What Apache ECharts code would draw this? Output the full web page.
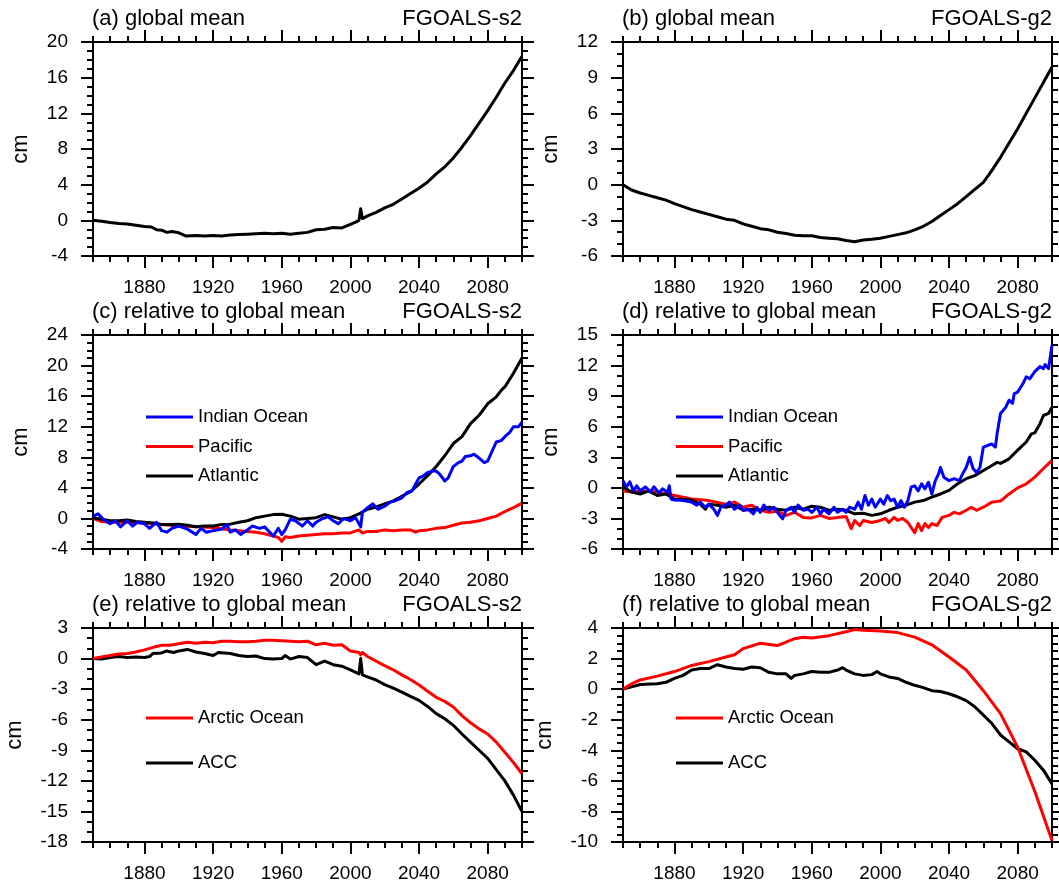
<!DOCTYPE html>
<html>
<head>
<meta charset="utf-8">
<script src="https://cdn.jsdelivr.net/npm/echarts@6/dist/echarts.min.js"></script>
<style>
html, body { margin: 0; padding: 0; background: #fff; }
#chart { width: 1059px; height: 889px; }
</style>
</head>
<body>
<div id="chart"></div>
<script>
// tick labels
var majorYears = [1880, 1920, 1960, 2000, 2040, 2080];

// (a) global mean, FGOALS-s2
var yrsGmS2 = [1850,1855,1860,1865,1870,1875,1880,1884,1887,1890,1893,1896,1900,1904,1910,1915,1920,1925,1930,1935,1940,1945,1950,1955,1960,1965,1970,1975,1980,1985,1990,1995,2000,2003,2005,2006,2007,2010,2015,2020,2025,2030,2035,2040,2045,2050,2055,2060,2065,2070,2075,2080,2085,2090,2095,2100];
var gmS2 = [0.0,-0.1,-0.25,-0.35,-0.4,-0.55,-0.7,-0.75,-1.05,-1.1,-1.35,-1.25,-1.4,-1.75,-1.7,-1.75,-1.7,-1.75,-1.65,-1.6,-1.55,-1.5,-1.45,-1.5,-1.45,-1.55,-1.45,-1.35,-1.05,-1.0,-0.8,-0.85,-0.45,-0.2,0.0,1.3,0.2,0.5,0.9,1.4,1.8,2.4,3.0,3.6,4.3,5.2,6.0,7.0,8.2,9.5,10.9,12.3,13.8,15.4,16.8,18.4];

// (b) global mean, FGOALS-g2
var yrsGmG2 = [1850,1855,1860,1865,1870,1875,1880,1885,1890,1895,1900,1905,1910,1915,1920,1925,1930,1935,1940,1945,1950,1955,1960,1965,1970,1975,1980,1985,1990,1995,2000,2005,2010,2015,2020,2025,2030,2035,2040,2045,2050,2055,2060,2065,2070,2075,2080,2085,2090,2095,2100];
var gmG2 = [0.0,-0.45,-0.7,-0.9,-1.1,-1.3,-1.6,-1.85,-2.1,-2.3,-2.5,-2.7,-2.9,-3.0,-3.3,-3.5,-3.7,-3.8,-4.0,-4.1,-4.25,-4.3,-4.3,-4.45,-4.5,-4.55,-4.7,-4.8,-4.65,-4.6,-4.5,-4.35,-4.2,-4.05,-3.8,-3.5,-3.1,-2.6,-2.1,-1.6,-1.0,-0.4,0.2,1.2,2.3,3.5,4.7,6.0,7.3,8.6,9.9];

// (c) basins relative to global mean, FGOALS-s2
var yrsIndS2 = [1850,1853,1856,1860,1863,1866,1870,1873,1876,1880,1883,1887,1890,1893,1896,1900,1905,1910,1913,1916,1920,1925,1928,1930,1933,1936,1940,1943,1947,1950,1953,1955,1958,1960,1962,1965,1968,1972,1975,1978,1980,1983,1987,1990,1993,1996,2000,2003,2006,2007,2010,2013,2016,2020,2023,2026,2030,2033,2036,2038,2040,2042,2045,2048,2050,2052,2055,2057,2060,2063,2065,2067,2070,2072,2075,2078,2080,2082,2085,2088,2090,2093,2095,2098,2100];
var indS2 = [0.3,0.6,-0.1,-0.7,-0.3,-1.1,-0.3,-1.0,-0.5,-0.7,-1.3,-0.5,-1.6,-1.8,-1.3,-1.0,-1.4,-2.1,-1.3,-1.8,-1.6,-1.4,-0.8,-1.8,-1.5,-2.1,-1.5,-1.0,-1.3,-1.1,-1.8,-2.3,-1.3,-2.1,-1.5,-0.1,-0.3,-1.0,-0.3,-1.0,-0.5,-0.1,0.2,-0.3,-0.7,0.0,-0.3,0.1,-1.1,0.8,1.4,1.9,1.2,1.6,2.1,2.3,2.7,3.4,3.6,4.5,5.3,5.5,6.0,6.2,6.2,5.8,4.9,5.3,6.8,7.3,7.5,8.1,8.2,8.4,7.9,7.3,7.5,8.5,10.0,10.2,10.7,11.3,12.0,12.0,12.6];
var yrsPacS2 = [1850,1855,1860,1870,1880,1890,1900,1910,1920,1930,1940,1945,1950,1955,1958,1960,1962,1965,1970,1975,1980,1985,1990,1995,2000,2005,2007,2010,2015,2020,2025,2030,2035,2038,2040,2045,2050,2055,2060,2065,2070,2075,2080,2085,2090,2095,2100];
var pacS2 = [0.0,-0.4,-0.5,-0.5,-0.6,-0.8,-1.0,-1.1,-1.2,-1.5,-1.7,-1.8,-2.0,-2.3,-2.5,-3.0,-2.4,-2.5,-2.3,-2.2,-2.1,-2.0,-2.0,-1.9,-1.9,-1.5,-1.9,-1.7,-1.7,-1.5,-1.6,-1.5,-1.5,-1.8,-1.6,-1.5,-1.3,-1.2,-0.9,-0.6,-0.5,-0.3,0.0,0.3,0.9,1.4,2.0];
var yrsAtlS2 = [1850,1855,1860,1865,1870,1875,1880,1885,1890,1895,1900,1905,1910,1915,1920,1925,1930,1935,1940,1945,1950,1955,1960,1965,1970,1975,1980,1985,1990,1995,2000,2005,2010,2015,2020,2025,2030,2035,2040,2045,2050,2055,2060,2065,2070,2075,2080,2085,2088,2090,2095,2100];
var atlS2 = [0.1,-0.1,-0.3,-0.3,-0.2,-0.4,-0.5,-0.6,-0.8,-0.8,-0.75,-0.9,-1.1,-1.0,-1.0,-0.8,-0.75,-0.5,-0.3,0.1,0.3,0.5,0.55,0.3,-0.1,0.0,0.1,0.5,0.2,-0.1,0.1,0.6,1.2,1.5,1.9,2.3,2.9,3.5,4.5,5.6,6.8,8.2,9.8,10.7,12.4,13.5,15.0,15.9,16.8,17.2,19.0,21.0];

// (d) basins relative to global mean, FGOALS-g2
var yrsIndG2 = [1850,1852,1854,1856,1858,1860,1863,1866,1868,1871,1873,1876,1877,1878,1880,1885,1890,1893,1895,1898,1900,1903,1905,1907,1910,1912,1915,1918,1920,1923,1926,1928,1930,1932,1935,1938,1940,1943,1945,1948,1950,1952,1955,1958,1960,1963,1965,1967,1970,1973,1975,1978,1980,1982,1985,1987,1989,1991,1993,1995,1997,2000,2002,2004,2006,2008,2010,2012,2014,2016,2018,2020,2022,2024,2026,2028,2030,2032,2034,2035,2037,2040,2043,2046,2048,2050,2052,2054,2056,2058,2060,2063,2065,2067,2068,2070,2073,2075,2077,2078,2080,2083,2085,2087,2090,2093,2095,2096,2098,2100];
var indG2 = [0.7,0.1,0.6,-0.3,0.2,-0.3,0.1,-0.4,0.1,-0.5,-0.1,-0.4,0.2,-1.1,-1.2,-1.25,-1.4,-1.7,-1.4,-1.9,-1.6,-2.1,-2.7,-1.9,-1.7,-1.4,-2.1,-1.7,-2.2,-2.1,-2.55,-1.9,-2.4,-1.7,-2.2,-1.9,-2.4,-3.05,-2.2,-1.9,-2.4,-1.7,-2.2,-2.1,-2.4,-1.9,-2.55,-2.1,-2.55,-1.9,-2.4,-2.1,-2.4,-1.9,-2.1,-1.4,-2.1,-0.75,-1.7,-1.1,-1.9,-1.1,-1.6,-0.75,-1.25,-1.1,-1.9,-1.25,-1.9,-1.25,0.1,0.2,-0.3,0.4,-0.1,0.55,-0.6,0.7,1.4,2.0,1.05,0.7,0.9,0.7,1.4,2.0,3.0,1.9,1.5,2.0,4.0,4.2,4.3,4.0,5.3,7.3,7.9,8.6,8.3,9.25,9.4,10.2,10.9,10.7,11.4,11.9,11.7,12.1,11.7,14.0];
var yrsPacG2 = [1850,1855,1860,1870,1880,1890,1900,1910,1915,1920,1925,1930,1935,1940,1945,1950,1955,1960,1965,1970,1975,1980,1983,1985,1988,1990,1995,2000,2003,2005,2008,2010,2013,2016,2018,2020,2022,2024,2026,2028,2030,2033,2036,2040,2043,2046,2050,2053,2056,2060,2065,2070,2075,2080,2085,2090,2095,2100];
var pacG2 = [-0.3,-0.4,-0.3,-0.4,-0.75,-1.1,-1.25,-1.6,-1.4,-1.9,-1.7,-2.2,-2.4,-2.3,-2.7,-2.4,-2.9,-2.95,-2.7,-3.0,-2.9,-2.8,-4.0,-3.2,-3.7,-3.2,-3.4,-3.2,-3.0,-3.4,-2.9,-3.2,-3.0,-3.4,-3.9,-4.4,-3.5,-4.2,-3.5,-3.9,-3.5,-3.7,-2.9,-2.7,-2.4,-2.55,-2.2,-1.9,-2.2,-1.9,-1.4,-1.3,-0.6,0.0,0.4,1.05,1.9,2.7];
var yrsAtlG2 = [1850,1855,1860,1865,1870,1875,1880,1890,1895,1898,1900,1905,1910,1915,1920,1925,1930,1935,1940,1945,1950,1955,1960,1965,1970,1975,1980,1985,1990,1995,2000,2005,2010,2015,2020,2025,2030,2035,2040,2045,2050,2055,2060,2065,2068,2070,2075,2080,2085,2088,2090,2093,2095,2098,2100];
var atlG2 = [0.1,-0.4,-0.6,-0.3,-0.75,-0.6,-1.1,-1.2,-1.6,-2.1,-1.6,-1.7,-1.9,-1.7,-2.2,-2.1,-2.2,-1.9,-2.1,-2.2,-1.9,-2.1,-1.8,-1.9,-2.2,-2.1,-2.2,-2.55,-2.5,-2.7,-2.55,-2.2,-1.9,-1.7,-1.4,-1.25,-0.9,-0.6,-0.25,0.4,0.9,1.2,1.7,2.2,2.5,2.4,2.85,3.7,4.5,5.3,5.4,6.3,7.1,7.3,7.9];

// (e) Arctic Ocean and ACC, FGOALS-s2
var yrsArcS2 = [1850,1855,1860,1865,1870,1875,1880,1885,1890,1895,1900,1905,1910,1915,1920,1925,1930,1935,1940,1945,1950,1955,1960,1965,1970,1975,1980,1985,1990,1995,2000,2005,2006,2007,2010,2015,2020,2025,2030,2035,2040,2045,2050,2055,2060,2065,2070,2075,2080,2085,2090,2095,2100];
var arcS2 = [0.0,0.15,0.3,0.45,0.5,0.65,0.85,1.1,1.3,1.3,1.45,1.6,1.5,1.6,1.55,1.7,1.7,1.65,1.65,1.7,1.8,1.8,1.75,1.7,1.65,1.7,1.35,1.5,1.3,1.35,0.75,0.6,0.35,0.6,0.2,-0.25,-0.7,-1.1,-1.6,-2.05,-2.6,-3.2,-3.8,-4.2,-4.75,-5.6,-6.3,-6.9,-7.4,-8.2,-9.2,-10.2,-11.3];
var yrsAccS2 = [1850,1855,1860,1865,1870,1875,1880,1883,1885,1890,1893,1897,1900,1905,1910,1915,1920,1923,1930,1935,1940,1945,1950,1955,1960,1962,1965,1970,1975,1980,1985,1990,1995,2000,2005,2006,2007,2010,2015,2020,2025,2030,2035,2040,2045,2050,2055,2060,2065,2070,2075,2080,2085,2090,2095,2100];
var accS2 = [0.0,-0.05,0.1,0.2,0.1,0.15,0.1,0.2,0.5,0.55,0.75,0.6,0.75,0.9,0.65,0.5,0.3,0.6,0.5,0.3,0.2,0.25,0.0,-0.05,0.0,0.3,-0.05,0.2,0.1,-0.6,-0.25,-0.6,-0.75,-1.1,-1.5,0.0,-1.6,-1.8,-2.1,-2.55,-2.9,-3.3,-3.7,-4.1,-4.7,-5.4,-5.9,-6.55,-7.4,-8.2,-9.0,-9.8,-10.9,-12.0,-13.4,-15.0];

// (f) Arctic Ocean and ACC, FGOALS-g2
var yrsArcG2 = [1850,1855,1860,1870,1880,1890,1900,1910,1915,1920,1930,1940,1950,1955,1960,1970,1980,1985,1990,2000,2010,2020,2030,2040,2050,2060,2070,2080,2090,2100];
var arcG2 = [0.0,0.35,0.6,0.85,1.15,1.55,1.8,2.1,2.25,2.65,3.0,2.85,3.3,3.4,3.35,3.5,3.75,3.9,3.85,3.8,3.7,3.4,2.9,2.1,1.25,-0.1,-1.6,-3.8,-6.7,-9.9];
var yrsAccG2 = [1850,1855,1860,1870,1875,1880,1885,1890,1895,1900,1905,1910,1915,1920,1925,1930,1935,1940,1945,1948,1950,1955,1960,1965,1970,1975,1978,1980,1985,1990,1995,1998,2000,2005,2010,2015,2020,2025,2030,2035,2040,2045,2050,2055,2060,2065,2070,2075,2080,2085,2090,2095,2100];
var accG2 = [0.0,0.15,0.3,0.35,0.45,0.7,0.9,1.25,1.35,1.35,1.6,1.45,1.35,1.3,1.45,1.4,1.1,1.0,1.0,0.7,0.9,1.0,1.15,1.1,1.1,1.25,1.4,1.25,1.0,0.9,0.95,1.15,1.0,0.8,0.7,0.45,0.25,0.1,-0.1,-0.15,-0.3,-0.5,-0.75,-1.15,-1.7,-2.25,-3.0,-3.45,-3.9,-4.1,-4.65,-5.3,-6.2];

function pairs(xs, ys) {
    return xs.map(function (x, i) { return [x, ys[i]]; });
}

var BLUE = '#0000ff', RED = '#ff0000', BLACK = '#000000';
var FONT = '"Liberation Sans", Arial, Helvetica, sans-serif';

var panels = [
    { tag: '(a) global mean', model: 'FGOALS-s2', min: -4, max: 20, step: 4, minor: 4, gap: 61,
      lines: [{ name: 'global mean', x: yrsGmS2, y: gmS2, color: BLACK }] },
    { tag: '(b) global mean', model: 'FGOALS-g2', min: -6, max: 12, step: 3, minor: 3, gap: 61,
      lines: [{ name: 'global mean', x: yrsGmG2, y: gmG2, color: BLACK }] },
    { tag: '(c) relative to global mean', model: 'FGOALS-s2', min: -4, max: 24, step: 4, minor: 4, gap: 61,
      legend: ['Indian Ocean', 'Pacific', 'Atlantic'], legendGap: 9.5, legendTop: 72,
      lines: [{ name: 'Pacific', x: yrsPacS2, y: pacS2, color: RED },
              { name: 'Atlantic', x: yrsAtlS2, y: atlS2, color: BLACK },
              { name: 'Indian Ocean', x: yrsIndS2, y: indS2, color: BLUE }] },
    { tag: '(d) relative to global mean', model: 'FGOALS-g2', min: -6, max: 15, step: 3, minor: 3, gap: 61,
      legend: ['Indian Ocean', 'Pacific', 'Atlantic'], legendGap: 9.5, legendTop: 72,
      lines: [{ name: 'Pacific', x: yrsPacG2, y: pacG2, color: RED },
              { name: 'Atlantic', x: yrsAtlG2, y: atlG2, color: BLACK },
              { name: 'Indian Ocean', x: yrsIndG2, y: indG2, color: BLUE }] },
    { tag: '(e) relative to global mean', model: 'FGOALS-s2', min: -18, max: 3, step: 3, minor: 3, gap: 67,
      legend: ['Arctic Ocean', 'ACC'], legendGap: 25, legendTop: 80,
      lines: [{ name: 'ACC', x: yrsAccS2, y: accS2, color: BLACK },
              { name: 'Arctic Ocean', x: yrsArcS2, y: arcS2, color: RED }] },
    { tag: '(f) relative to global mean', model: 'FGOALS-g2', min: -10, max: 4, step: 2, minor: 4, gap: 67,
      legend: ['Arctic Ocean', 'ACC'], legendGap: 25, legendTop: 80,
      lines: [{ name: 'ACC', x: yrsAccG2, y: accG2, color: BLACK },
              { name: 'Arctic Ocean', x: yrsArcG2, y: arcG2, color: RED }] }
];

var colLeft = [93, 623], rowTop = [42, 335, 628], gw = 429, gh = 214;
var axisLineStyle = { color: '#000', width: 2 };
var grids = [], xAxes = [], yAxes = [], series = [], titles = [], legends = [];

panels.forEach(function (p, i) {
    var col = i % 2, row = Math.floor(i / 2);
    var left = colLeft[col], top = rowTop[row];
    grids.push({ left: left, top: top, width: gw, height: gh });

    ['bottom', 'top'].forEach(function (pos) {
        // decade ticks and the frame line
        xAxes.push({
            gridIndex: i, type: 'value', position: pos, min: 1850, max: 2100, interval: 10,
            axisLine: { show: true, onZero: false, lineStyle: axisLineStyle },
            axisTick: { show: true, length: 6, lineStyle: axisLineStyle },
            axisLabel: { show: false }, splitLine: { show: false }
        });
        // long ticks every 40 years, labels only at the bottom
        xAxes.push({
            gridIndex: i, type: 'value', position: pos, min: 1850, max: 2100,
            axisLine: { show: false, onZero: false },
            axisTick: { show: true, length: 12, customValues: majorYears, lineStyle: axisLineStyle },
            axisLabel: { show: pos === 'bottom', customValues: majorYears, margin: 22,
                         fontSize: 19, color: '#000', fontFamily: FONT,
                         formatter: function (v) { return String(v); } },
            splitLine: { show: false }
        });
    });

    ['left', 'right'].forEach(function (pos) {
        yAxes.push({
            gridIndex: i, type: 'value', position: pos, min: p.min, max: p.max, interval: p.step,
            name: pos === 'left' ? 'cm' : '', nameLocation: 'middle', nameGap: p.gap,
            nameTextStyle: { fontSize: 22, color: '#000', fontFamily: FONT },
            axisLine: { show: true, onZero: false, lineStyle: axisLineStyle },
            axisTick: { show: true, length: 12, lineStyle: axisLineStyle },
            minorTick: { show: true, splitNumber: p.minor, length: 6, lineStyle: axisLineStyle },
            axisLabel: { show: pos === 'left', margin: 25, fontSize: 19, color: '#000', fontFamily: FONT },
            splitLine: { show: false }, minorSplitLine: { show: false }
        });
    });

    titles.push({ text: p.tag, left: left - 1, top: top - 34, padding: 0,
                  textStyle: { fontSize: 22, fontWeight: 'normal', color: '#000', fontFamily: FONT } });
    titles.push({ text: p.model, right: 1059 - (left + gw), top: top - 34, padding: 0,
                  textStyle: { fontSize: 22, fontWeight: 'normal', color: '#000', fontFamily: FONT } });

    if (p.legend) {
        legends.push({
            data: p.legend, orient: 'vertical', left: left + 53, top: top + p.legendTop,
            padding: 0, itemGap: p.legendGap, itemWidth: 47, itemHeight: 3, icon: 'rect',
            selectedMode: false,
            textStyle: { fontSize: 18.5, lineHeight: 20, color: '#000', fontFamily: FONT }
        });
    }

    p.lines.forEach(function (l) {
        series.push({
            type: 'line', name: l.name, xAxisIndex: 4 * i, yAxisIndex: 2 * i,
            data: pairs(l.x, l.y), showSymbol: false, symbol: 'none',
            lineStyle: { color: l.color, width: 3, join: 'round' },
            itemStyle: { color: l.color }, silent: true
        });
    });
});

var chart = echarts.init(document.getElementById('chart'));
chart.setOption({
    animation: false,
    backgroundColor: '#fff',
    title: titles,
    legend: legends,
    grid: grids,
    xAxis: xAxes,
    yAxis: yAxes,
    series: series
});
</script>
</body>
</html>
